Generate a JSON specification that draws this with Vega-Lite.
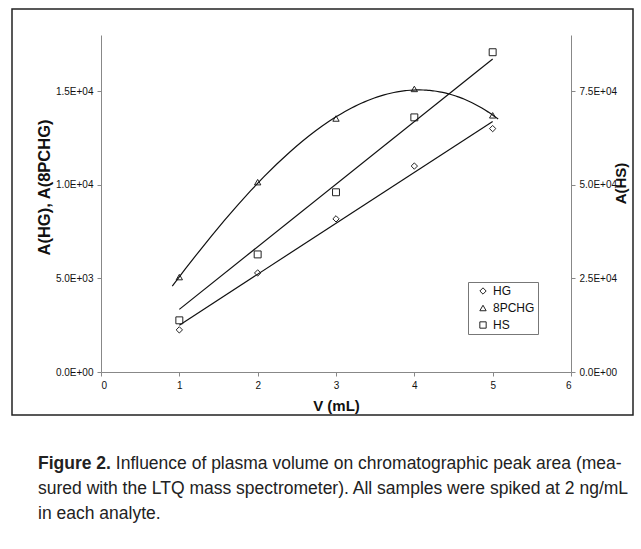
{
  "$schema": "https://vega.github.io/schema/vega-lite/v6.json",
  "padding": {"left": 11, "top": 8, "right": 0, "bottom": 0},
  "background": "white",
  "spacing": 0,
  "config": {
    "view": {"stroke": "#222", "strokeWidth": 1.5},
    "font": "Liberation Sans",
    "axis": {
      "grid": false,
      "domainColor": "#888",
      "tickColor": "#888",
      "tickSize": 4,
      "labelFont": "Liberation Sans",
      "labelFontSize": 10,
      "labelColor": "#111",
      "titleFont": "Liberation Sans",
      "titleFontSize": 15,
      "titleFontWeight": "bold",
      "titleColor": "#111"
    }
  },
  "vconcat": [
    {
      "width": 621,
      "height": 406,
      "data": {
        "values": [
          {"series": "HG", "V": 1, "A": 2250},
          {"series": "HG", "V": 2, "A": 5290},
          {"series": "HG", "V": 3, "A": 8180},
          {"series": "HG", "V": 4, "A": 11000},
          {"series": "HG", "V": 5, "A": 13000},
          {"series": "8PCHG", "V": 1, "A": 5070},
          {"series": "8PCHG", "V": 2, "A": 10140},
          {"series": "8PCHG", "V": 3, "A": 13540},
          {"series": "8PCHG", "V": 4, "A": 15120},
          {"series": "8PCHG", "V": 5, "A": 13710},
          {"series": "HS", "V": 1, "A": 13800},
          {"series": "HS", "V": 2, "A": 31400},
          {"series": "HS", "V": 3, "A": 48000},
          {"series": "HS", "V": 4, "A": 68000},
          {"series": "HS", "V": 5, "A": 85400}
        ]
      },
      "layer": [
        {
          "layer": [
            {
              "transform": [{"filter": "datum.series != 'HS'"}],
              "mark": {"type": "point", "filled": false, "stroke": "#222", "strokeWidth": 1, "size": 40, "opacity": 1},
              "encoding": {
                "x": {
                  "field": "V", "type": "quantitative",
                  "scale": {"domain": [0, 6], "range": [89, 559], "nice": false, "zero": false},
                  "axis": {"orient": "bottom", "offset": -43, "values": [0, 1, 2, 3, 4, 5, 6], "format": "d", "title": "V (mL)", "labelPadding": 4, "titlePadding": 8}
                },
                "y": {
                  "field": "A", "type": "quantitative",
                  "scale": {"domain": [0, 18000], "range": [363, 26], "nice": false},
                  "axis": {
                    "orient": "left", "offset": -89, "values": [0, 5000, 10000, 15000],
                    "labelExpr": "datum.value == 0 ? '0.0E+00' : format(datum.value / pow(10, floor(log(datum.value)/LN10 + 1e-9)), '.1f') + 'E+' + (floor(log(datum.value)/LN10 + 1e-9) < 10 ? '0' : '') + floor(log(datum.value)/LN10 + 1e-9)",
                    "labelPadding": 4,
                    "title": "A(HG), A(8PCHG)", "titlePadding": 3, "titleFontSize": 16.5, "titleY": 178
                  }
                },
                "shape": {
                  "field": "series", "type": "nominal",
                  "scale": {"domain": ["HG", "8PCHG", "HS"], "range": ["diamond", "triangle-up", "square"]},
                  "legend": {
                    "title": null, "orient": "none", "legendX": 456, "legendY": 273,
                    "fillColor": "white", "strokeColor": "#777", "padding": 3,
                    "labelFont": "Liberation Sans", "labelFontSize": 12, "labelColor": "#111",
                    "symbolStrokeColor": "#222", "symbolFillColor": "white", "symbolStrokeWidth": 1,
                    "symbolSize": 40, "rowPadding": 5, "symbolOffset": 6
                  }
                }
              }
            },
            {
              "transform": [
                {"filter": "datum.series == 'HG'"},
                {"regression": "A", "on": "V", "method": "linear", "extent": [1, 5]}
              ],
              "mark": {"type": "line", "color": "#111", "strokeWidth": 1.2},
              "encoding": {
                "x": {"field": "V", "type": "quantitative"},
                "y": {"field": "A", "type": "quantitative", "title": "A(HG), A(8PCHG)"}
              }
            },
            {
              "transform": [
                {"filter": "datum.series == '8PCHG'"},
                {"regression": "A", "on": "V", "method": "poly", "order": 3, "extent": [0.91, 5.07]}
              ],
              "mark": {"type": "line", "color": "#111", "strokeWidth": 1.2},
              "encoding": {
                "x": {"field": "V", "type": "quantitative"},
                "y": {"field": "A", "type": "quantitative", "title": "A(HG), A(8PCHG)"}
              }
            }
          ]
        },
        {
          "layer": [
            {
              "transform": [{"filter": "datum.series == 'HS'"}],
              "mark": {"type": "point", "filled": false, "stroke": "#222", "strokeWidth": 1, "size": 48, "opacity": 1},
              "encoding": {
                "x": {"field": "V", "type": "quantitative"},
                "y": {
                  "field": "A", "type": "quantitative",
                  "scale": {"domain": [0, 90000], "range": [363, 26], "nice": false},
                  "axis": {
                    "orient": "right", "offset": -62, "values": [0, 25000, 50000, 75000],
                    "labelExpr": "datum.value == 0 ? '0.0E+00' : format(datum.value / pow(10, floor(log(datum.value)/LN10 + 1e-9)), '.1f') + 'E+' + (floor(log(datum.value)/LN10 + 1e-9) < 10 ? '0' : '') + floor(log(datum.value)/LN10 + 1e-9)",
                    "labelPadding": 4,
                    "title": "A(HS)", "titleAngle": 270, "titlePadding": 12, "titleY": 174
                  }
                },
                "shape": {"field": "series", "type": "nominal"}
              }
            },
            {
              "data": {"values": [{"V": 1, "A": 16720}, {"V": 5, "A": 83600}]},
              "mark": {"type": "line", "color": "#111", "strokeWidth": 1.2},
              "encoding": {
                "x": {"field": "V", "type": "quantitative"},
                "y": {"field": "A", "type": "quantitative", "title": "A(HS)"}
              }
            }
          ]
        }
      ],
      "resolve": {"scale": {"y": "independent"}}
    },
    {
      "width": 621,
      "height": 200,
      "data": {"values": []},
      "mark": "point",
      "title": {
        "text": "Figure 2.",
        "subtitle": [
          "\u200b\u00a0\u00a0\u00a0\u00a0\u00a0\u00a0\u00a0\u00a0\u00a0\u00a0\u00a0\u00a0\u00a0\u00a0\u00a0\u00a0Influence of plasma volume on chromatographic peak area (mea-",
          "sured with the LTQ mass spectrometer). All samples were spiked at 2 ng/mL",
          "in each analyte."
        ],
        "orient": "top",
        "anchor": "start",
        "frame": "group",
        "offset": -106,
        "dx": 26,
        "font": "Liberation Sans",
        "fontSize": 17.5,
        "fontWeight": "bold",
        "color": "#222",
        "subtitleFont": "Liberation Sans",
        "subtitleFontSize": 17.5,
        "subtitleFontWeight": "normal",
        "subtitleColor": "#222",
        "subtitleLineHeight": 25,
        "subtitlePadding": -17.5
      }
    }
  ]
}
